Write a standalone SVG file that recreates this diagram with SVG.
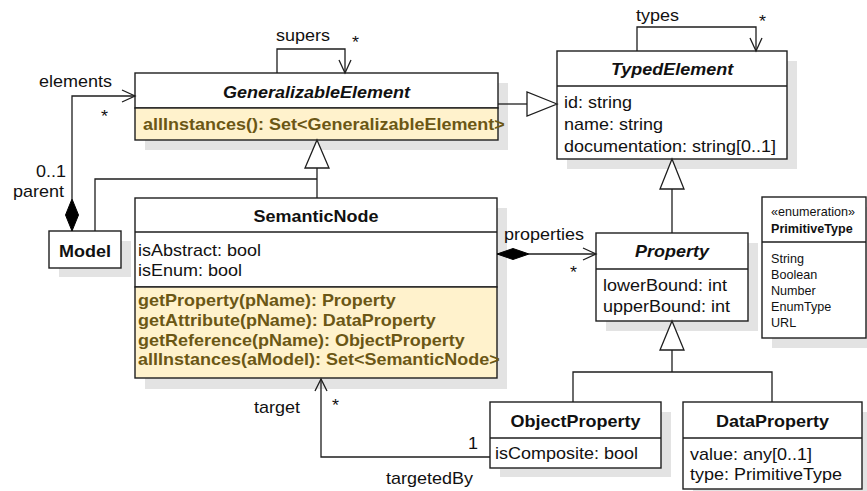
<svg xmlns="http://www.w3.org/2000/svg" width="867" height="491" viewBox="0 0 867 491">
<style>
.shadow{fill:#e3e3e3;stroke:none}
.box{fill:#ffffff;stroke:#1e1e1e;stroke-width:1.4}
.ops{fill:#fff2cc;stroke:#1e1e1e;stroke-width:1.4}
.sep{stroke:#1e1e1e;stroke-width:1.4;fill:none}
.ln{fill:none;stroke:#1e1e1e;stroke-width:1.3}
.tri{fill:#ffffff;stroke:#1e1e1e;stroke-width:1.3}
.dia{fill:#000000;stroke:#000000;stroke-width:1}
text{font-family:"Liberation Sans",Arial,sans-serif;font-size:16px;fill:#111111}
.t{font-weight:bold}
.ti{font-weight:bold;font-style:italic}
.op{font-weight:bold;fill:#6b5715}
.sm{font-size:12px}
.mid{text-anchor:middle}
</style>

<g id="GeneralizableElement">
  <rect class="shadow" fill="#e3e3e3" x="145" y="83" width="363" height="67"/>
  <rect class="box" x="135" y="73" width="363" height="35"/>
  <rect class="ops" x="135" y="108" width="363" height="32"/>
  <text class="ti mid" transform="translate(316.5,98) scale(1.125,1)">GeneralizableElement</text>
  <text class="op" transform="translate(143,130) scale(1.125,1)">allInstances(): Set&lt;GeneralizableElement&gt;</text>
</g>

<g id="TypedElement">
  <rect class="shadow" fill="#e3e3e3" x="567" y="61" width="230" height="108"/>
  <rect class="box" x="557" y="51" width="230" height="108"/>
  <line class="sep" x1="557" y1="86" x2="787" y2="86"/>
  <text class="ti mid" transform="translate(672,75) scale(1.125,1)">TypedElement</text>
  <text transform="translate(564,108) scale(1.125,1)">id: string</text>
  <text transform="translate(564,130) scale(1.125,1)">name: string</text>
  <text transform="translate(564,152) scale(1.125,1)">documentation: string[0..1]</text>
</g>

<g id="Model">
  <rect class="shadow" fill="#e3e3e3" x="59" y="241" width="72" height="36"/>
  <rect class="box" x="49" y="231" width="72" height="37"/>
  <text class="t mid" transform="translate(85,257) scale(1.125,1)">Model</text>
</g>

<g id="SemanticNode">
  <rect class="shadow" fill="#e3e3e3" x="145" y="208" width="362" height="181"/>
  <rect class="box" x="135" y="198" width="362" height="89"/>
  <line class="sep" x1="135" y1="232" x2="497" y2="232"/>
  <rect class="ops" x="135" y="287" width="362" height="91"/>
  <text class="t mid" transform="translate(316,222) scale(1.125,1)">SemanticNode</text>
  <text transform="translate(138,256) scale(1.125,1)">isAbstract: bool</text>
  <text transform="translate(138,276) scale(1.125,1)">isEnum: bool</text>
  <text class="op" transform="translate(138,306) scale(1.125,1)">getProperty(pName): Property</text>
  <text class="op" transform="translate(138,326) scale(1.125,1)">getAttribute(pName): DataProperty</text>
  <text class="op" transform="translate(138,346) scale(1.125,1)">getReference(pName): ObjectProperty</text>
  <text class="op" transform="translate(138,365) scale(1.125,1)">allInstances(aModel): Set&lt;SemanticNode&gt;</text>
</g>

<g id="Property">
  <rect class="shadow" fill="#e3e3e3" x="606" y="243" width="152" height="88"/>
  <rect class="box" x="596" y="233" width="152" height="88"/>
  <line class="sep" x1="596" y1="269" x2="748" y2="269"/>
  <text class="ti mid" transform="translate(672,257) scale(1.125,1)">Property</text>
  <text transform="translate(603,291) scale(1.125,1)">lowerBound: int</text>
  <text transform="translate(603,312) scale(1.125,1)">upperBound: int</text>
</g>

<g id="PrimitiveType">
  <rect class="shadow" fill="#e3e3e3" x="772" y="207" width="95" height="141"/>
  <rect class="box" x="762" y="197" width="104" height="141"/>
  <line class="sep" x1="762" y1="242" x2="866" y2="242"/>
  <text class="sm" transform="translate(771,216) scale(1.05,1)">«enumeration»</text>
  <text class="sm t" transform="translate(771,233) scale(1.05,1)">PrimitiveType</text>
  <text class="sm" transform="translate(771,263) scale(1.05,1)">String</text>
  <text class="sm" transform="translate(771,279) scale(1.05,1)">Boolean</text>
  <text class="sm" transform="translate(771,295) scale(1.05,1)">Number</text>
  <text class="sm" transform="translate(771,311) scale(1.05,1)">EnumType</text>
  <text class="sm" transform="translate(771,327) scale(1.05,1)">URL</text>
</g>

<g id="ObjectProperty">
  <rect class="shadow" fill="#e3e3e3" x="500" y="412" width="171" height="65"/>
  <rect class="box" x="490" y="402" width="171" height="66"/>
  <line class="sep" x1="490" y1="438" x2="661" y2="438"/>
  <text class="t mid" transform="translate(575.5,427) scale(1.125,1)">ObjectProperty</text>
  <text transform="translate(495,459) scale(1.125,1)">isComposite: bool</text>
</g>

<g id="DataProperty">
  <rect class="shadow" fill="#e3e3e3" x="693" y="412" width="174" height="79"/>
  <rect class="box" x="683" y="402" width="179" height="87"/>
  <line class="sep" x1="683" y1="438" x2="862" y2="438"/>
  <text class="t mid" transform="translate(772.5,427) scale(1.125,1)">DataProperty</text>
  <text transform="translate(690,460) scale(1.125,1)">value: any[0..1]</text>
  <text transform="translate(690,480) scale(1.125,1)">type: PrimitiveType</text>
</g>

<g id="connectors">
  <!-- supers self loop -->
  <path class="ln" d="M277,73 V49 H345 V73"/>
  <path class="ln" d="M339,60 L345,73 L351,60"/>
  <!-- elements: Model -> GeneralizableElement -->
  <path class="ln" d="M72,199 V96 H135"/>
  <path class="ln" d="M122,90 L135,96 L122,102"/>
  <polygon class="dia" points="72,199 78.5,215 72,231 65.5,215"/>
  <!-- SemanticNode -> GeneralizableElement generalization -->
  <path class="ln" d="M317,198 V168"/>
  <path class="ln" d="M95,231 V179 H317"/>
  <polygon class="tri" points="317,140 329,168 305,168"/>
  <!-- GeneralizableElement -> TypedElement generalization -->
  <path class="ln" d="M498,104 H527"/>
  <polygon class="tri" points="557,104 527,92 527,116"/>
  <!-- types self loop -->
  <path class="ln" d="M637,51 V27 H756 V51"/>
  <path class="ln" d="M750,38 L756,51 L762,38"/>
  <!-- Property -> TypedElement generalization -->
  <path class="ln" d="M672,233 V189"/>
  <polygon class="tri" points="672,159 684,189 660,189"/>
  <!-- properties composition -->
  <path class="ln" d="M529,254 H596"/>
  <path class="ln" d="M583,248 L596,254 L583,260"/>
  <polygon class="dia" points="497,254 513,248.5 529,254 513,259.5"/>
  <!-- ObjectProperty / DataProperty -> Property generalization -->
  <path class="ln" d="M573,402 V372 H772 V402"/>
  <path class="ln" d="M672,372 V350"/>
  <polygon class="tri" points="672,321 684,350 660,350"/>
  <!-- target / targetedBy -->
  <path class="ln" d="M490,457 H321 V379"/>
  <path class="ln" d="M315,391 L321,379 L327,391"/>

  <text transform="translate(276,41) scale(1.125,1)">supers</text>
  <text transform="translate(352,48) scale(1.125,1)">*</text>
  <text transform="translate(39,87) scale(1.125,1)">elements</text>
  <text transform="translate(101,122) scale(1.125,1)">*</text>
  <text transform="translate(36,177) scale(1.125,1)">0..1</text>
  <text transform="translate(13,197) scale(1.125,1)">parent</text>
  <text transform="translate(636,21) scale(1.125,1)">types</text>
  <text transform="translate(759,27) scale(1.125,1)">*</text>
  <text transform="translate(504,240) scale(1.125,1)">properties</text>
  <text transform="translate(570,278) scale(1.125,1)">*</text>
  <text transform="translate(254,413) scale(1.125,1)">target</text>
  <text transform="translate(332,411) scale(1.125,1)">*</text>
  <text transform="translate(468,449) scale(1.125,1)">1</text>
  <text transform="translate(386,484) scale(1.125,1)">targetedBy</text>
</g>
</svg>
